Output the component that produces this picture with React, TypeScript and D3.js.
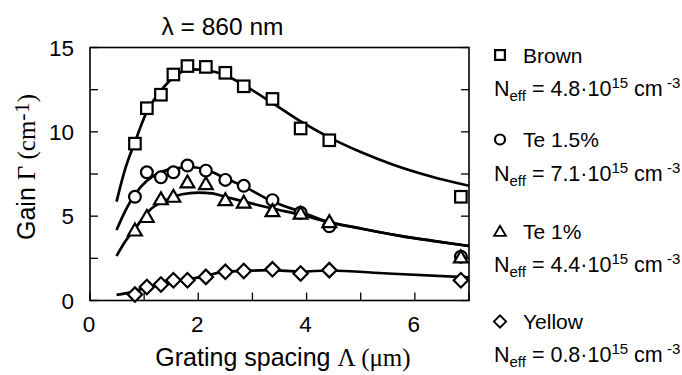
import * as d3 from "d3"

// measured grating spacings (µm) shared by all four samples
const spacing = [0.83, 1.05, 1.31, 1.54, 1.8, 2.14, 2.5, 2.84, 3.37, 3.89, 4.42, 6.85]
const brownGain = [9.3, 11.4, 12.2, 13.4, 13.9, 13.85, 13.5, 12.7, 11.95, 10.2, 9.5, 6.15]
const te15Gain = [6.15, 7.6, 7.3, 7.6, 8.0, 7.7, 7.15, 6.8, 5.95, 5.2, 4.4, 2.6]
const te1Gain = [4.15, 4.95, 6.0, 6.15, 7.0, 6.9, 5.95, 5.8, 5.3, 5.15, 4.65, 2.55]
const yellowGain = [0.35, 0.8, 0.95, 1.2, 1.2, 1.4, 1.7, 1.75, 1.85, 1.6, 1.8, 1.2]

// fitted curves
const brownFitX = [0.49, 0.65, 0.83, 1.05, 1.3, 1.57, 1.85, 2.15, 2.5, 2.85, 3.35, 3.9, 4.4, 5.0, 5.6, 6.3, 7.0]
const brownFitY = [5.86, 7.8, 9.4, 11.2, 12.4, 13.3, 13.7, 13.65, 13.35, 12.75, 11.75, 10.6, 9.7, 8.8, 8.05, 7.35, 6.8]
const te15FitX = [0.49, 0.65, 0.83, 1.05, 1.3, 1.6, 1.9, 2.15, 2.5, 2.85, 3.35, 3.9, 4.4, 5.0, 5.7, 6.3, 7.0]
const te15FitY = [4.18, 5.3, 6.3, 7.1, 7.6, 7.85, 7.9, 7.75, 7.25, 6.75, 5.9, 5.25, 4.65, 4.27, 3.85, 3.55, 3.23]
const te1FitX = [0.49, 0.65, 0.83, 1.1, 1.4, 1.7, 2.0, 2.25, 2.5, 2.85, 3.35, 3.9, 4.4, 5.0, 5.7, 6.3, 7.0]
const te1FitY = [2.64, 3.5, 4.25, 5.35, 5.95, 6.3, 6.4, 6.35, 6.15, 5.86, 5.47, 5.07, 4.67, 4.27, 3.85, 3.55, 3.23]
const yellowFitX = [0.49, 0.65, 0.83, 1.05, 1.3, 1.55, 1.8, 2.05, 2.5, 2.85, 3.35, 3.9, 4.4, 5.5, 7.0]
const yellowFitY = [0.33, 0.42, 0.55, 0.8, 1.0, 1.15, 1.25, 1.4, 1.71, 1.75, 1.8, 1.72, 1.78, 1.6, 1.37]

const xTicks = [0, 1, 2, 3, 4, 5, 6, 7]
const xLabels = [0, 2, 4, 6]
const yTicks = [0, 2.5, 5, 7.5, 10, 12.5, 15]
const yLabels = [0, 5, 10, 15]

const legendNames = ["Brown", "Te 1.5%", "Te 1%", "Yellow"]
const legendNeff = ["4.8", "7.1", "4.4", "0.8"]

const SANS = "'Liberation Sans', Arial, Helvetica, sans-serif"
const SERIF = "'Liberation Serif', 'Times New Roman', serif"

const W = 682
const H = 375

export default function App() {
  const x = d3.scaleLinear().domain([0, 7]).range([90, 469])
  const y = d3.scaleLinear().domain([0, 15]).range([300.5, 47.5])

  const line = d3
    .line<[number, number]>()
    .x((d) => x(d[0]))
    .y((d) => y(d[1]))
    .curve(d3.curveMonotoneX)

  const fits = [
    [brownFitX, brownFitY],
    [te15FitX, te15FitY],
    [te1FitX, te1FitY],
    [yellowFitX, yellowFitY],
  ]

  const tri = d3.symbol(d3.symbolTriangle, 82)()
  const dia = d3.symbol(d3.symbolSquare, 104)()

  const marker = (kind: number, cx: number, cy: number, key: string, scale = 1) => {
    const common = { fill: "#fff", stroke: "#000", strokeWidth: 2.2 }
    if (kind === 0) {
      const s = 11.5 * scale
      return <rect key={key} x={cx - s / 2} y={cy - s / 2} width={s} height={s} {...common} />
    }
    if (kind === 1) return <circle key={key} cx={cx} cy={cy} r={5.9 * scale} {...common} />
    if (kind === 2)
      return <path key={key} d={tri!} transform={`translate(${cx},${cy + 1}) scale(${scale})`} {...common} />
    return <path key={key} d={dia!} transform={`translate(${cx},${cy}) rotate(45) scale(${scale})`} {...common} />
  }

  const series = [brownGain, te15Gain, te1Gain, yellowGain]
  const legendLabelY = [62.5, 147, 239, 329]
  const legendNeffY = [96, 181, 272, 362]

  return (
    <svg width={W} height={H} style={{ position: "absolute", left: 0, top: 0 }} fontFamily={SANS}>
      <rect width={W} height={H} fill="#fff" />

      {/* title */}
      <text x={222.5} y={35} fontSize={24.5} textAnchor="middle">
        λ = 860 nm
      </text>

      {/* frame */}
      <rect x={x(0)} y={y(15)} width={x(7) - x(0)} height={y(0) - y(15)} fill="none" stroke="#000" strokeWidth={1.6} />

      {/* ticks */}
      {xTicks.map((t) => (
        <line key={"xt" + t} x1={x(t)} x2={x(t)} y1={y(0)} y2={y(0) - 8} stroke="#000" strokeWidth={1.3} />
      ))}
      {yTicks.map((t) => (
        <g key={"yt" + t}>
          <line x1={x(0)} x2={x(0) + 8} y1={y(t)} y2={y(t)} stroke="#000" strokeWidth={1.3} />
          <line x1={x(7)} x2={x(7) - 8} y1={y(t)} y2={y(t)} stroke="#000" strokeWidth={1.3} />
        </g>
      ))}
      {xLabels.map((t) => (
        <text key={"xl" + t} x={x(t) - 1} y={332} fontSize={22.5} textAnchor="middle">
          {t}
        </text>
      ))}
      {yLabels.map((t) => (
        <text key={"yl" + t} x={74} y={y(t) + 8} fontSize={22.5} textAnchor="end">
          {t}
        </text>
      ))}

      {/* axis titles */}
      <text x={283} y={366} fontSize={25} textAnchor="middle">
        Grating spacing{" "}
        <tspan fontFamily={SERIF}>Λ (μm)</tspan>
      </text>
      <text transform="translate(35,167) rotate(-90)" fontSize={25} textAnchor="middle">
        Gain{" "}
        <tspan fontFamily={SERIF}>
          Γ (cm
          <tspan dy={-6} fontSize={22}>
            -1
          </tspan>
          <tspan dy={6}>)</tspan>
        </tspan>
      </text>

      {/* fitted curves */}
      {fits.map(([fx, fy], i) => (
        <path
          key={"fit" + i}
          d={line(fx.map((v, j) => [v, fy[j]] as [number, number])) || ""}
          fill="none"
          stroke="#000"
          strokeWidth={2.7}
        />
      ))}

      {/* data markers */}
      {series.map((vals, k) => (
        <g key={"s" + k}>{vals.map((v, j) => marker(k, x(spacing[j]), y(v), `m${k}-${j}`))}</g>
      ))}

      {/* legend */}
      {legendNames.map((name, i) => (
        <g key={"lg" + i}>
          {marker(i, 500, legendLabelY[i] - 7.5, "lm" + i, 0.85)}
          <text x={523} y={legendLabelY[i]} fontSize={21}>
            {name}
          </text>
          <text x={494} y={legendNeffY[i]} fontSize={21.5}>
            N
            <tspan dy={5} fontSize={15}>
              eff
            </tspan>
            <tspan dy={-5}>{` = ${legendNeff[i]}·10`}</tspan>
            <tspan dy={-8} fontSize={15}>
              15
            </tspan>
            <tspan dy={8}> cm</tspan>
            <tspan dy={-8} fontSize={15}>
              {" -3"}
            </tspan>
          </text>
        </g>
      ))}
    </svg>
  )
}
